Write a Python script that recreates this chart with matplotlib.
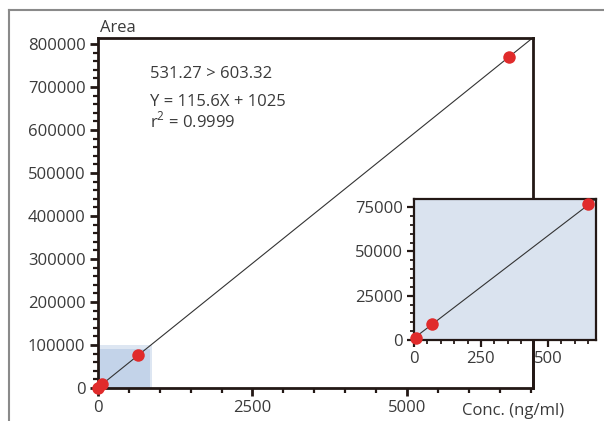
import matplotlib
matplotlib.use("Agg")
import matplotlib.pyplot as plt
import numpy as np
from matplotlib.lines import Line2D
from matplotlib.patches import Rectangle
from matplotlib.ticker import MultipleLocator

# ---- data ----
conc = [8, 68, 650, 6650]
area = [1100, 9000, 76500, 770000]
slope = 115.6
intercept = 1025
transition = "531.27 > 603.32"
equation = "Y = 115.6X + 1025"
r2_text = "r$^2$ = 0.9999"
main_xticks = [0, 2500, 5000]
main_yticks = [0, 100000, 200000, 300000, 400000, 500000, 600000, 700000, 800000]
inset_xticks = [0, 250, 500]
inset_yticks = [0, 25000, 50000, 75000]

# ---- style ----
plt.rcParams['font.family'] = ['Open Sans', 'DejaVu Sans']
plt.rcParams['mathtext.fontset'] = 'custom'
plt.rcParams['mathtext.rm'] = 'Open Sans'
TXT = '#3a3a3a'
INK = '#231815'
RED = '#e02b2b'
FS = 12

W, H = 604, 421
fig = plt.figure(figsize=(W / 100, H / 100), dpi=100)

def rect(l, t, r, b):
    return [l / W, 1 - b / H, (r - l) / W, (b - t) / H]

ax = fig.add_axes(rect(98, 38, 533, 388))
ax.set_xlim(0, 7040)
ax.set_ylim(0, 814000)

def style_axes(a, lw, major, minor, pad):
    for s in a.spines.values():
        s.set_linewidth(lw)
        s.set_color(INK)
    a.tick_params(which='major', direction='out', length=major, width=lw,
                  color=INK, labelsize=FS, labelcolor=TXT, pad=pad,
                  top=False, right=False)
    a.tick_params(which='minor', direction='out', length=minor, width=lw * 0.8,
                  color=INK, top=False, right=False)

style_axes(ax, 2.0, 5.5, 3.5, 3.5)
ax.set_xticks(main_xticks)
ax.set_yticks(main_yticks)
ax.xaxis.set_minor_locator(MultipleLocator(500))
ax.yaxis.set_minor_locator(MultipleLocator(20000))
ax.set_xticklabels([str(v) for v in main_xticks])
ax.set_yticklabels([str(v) for v in main_yticks])

# shaded zoom region
ax.add_patch(Rectangle((0, 0), 875, 100000, facecolor='#dde6f2', edgecolor='none', zorder=1, clip_on=False))
ax.add_patch(Rectangle((15, 0), 830, 90000, facecolor='#c3d3e9', edgecolor='none', zorder=1.1, clip_on=False))

xl = np.array(ax.get_xlim())
ax.plot(xl, slope * xl + intercept, color='#333333', lw=0.8, zorder=2)
ax.plot(conc, area, 'o', color=RED, ms=9, mec='none', zorder=3, clip_on=False)

fig.text(100 / W, 1 - 32 / H, "Area", fontsize=FS, color=TXT, ha='left', va='baseline')
ax.text(150 / W, 1 - 78 / H, transition, transform=fig.transFigure, fontsize=FS, color=TXT, ha='left', va='baseline')
ax.text(150 / W, 1 - 106 / H, equation, transform=fig.transFigure, fontsize=FS, color=TXT, ha='left', va='baseline')
ax.text(150 / W, 1 - 127 / H, r2_text, transform=fig.transFigure, fontsize=FS, color=TXT, ha='left', va='baseline')
fig.text(462 / W, 1 - 415 / H, "Conc. (ng/ml)", fontsize=FS, color=TXT, ha='left', va='baseline')

# ---- inset ----
ins = fig.add_axes(rect(414, 199, 596, 340))
ins.set_facecolor('#dae3ef')
ins.set_xlim(0, 680)
ins.set_ylim(0, 79600)
style_axes(ins, 1.6, 5.0, 3.2, 3.0)
ins.set_xticks(inset_xticks)
ins.set_yticks(inset_yticks)
ins.xaxis.set_minor_locator(MultipleLocator(50))
ins.yaxis.set_minor_locator(MultipleLocator(5000))
ins.set_xticklabels([str(v) for v in inset_xticks])
ins.set_yticklabels([str(v) for v in inset_yticks])
xi = np.array(ins.get_xlim())
ins.plot(xi, slope * xi + intercept, color='#333333', lw=0.8, zorder=2)
ins.plot(conc, area, 'o', color=RED, ms=9, mec='none', zorder=3, clip_on=False)

# main right spine visible below inset
ins_bottom_frac = (388 - 340) / (388 - 38)
ins.plot([1, 1], [0, ins_bottom_frac], transform=ax.transAxes, color=INK, lw=2.0,
         clip_on=False, zorder=5, solid_capstyle='butt')

# figure frame (top and left gray lines)
fig.add_artist(Line2D([9 / W, 1], [1 - 10 / H, 1 - 10 / H], color='#8a8a8a', lw=1.5))
fig.add_artist(Line2D([9 / W, 9 / W], [0, 1 - 10 / H], color='#8a8a8a', lw=1.5))

fig.savefig("out.png", dpi=100)
